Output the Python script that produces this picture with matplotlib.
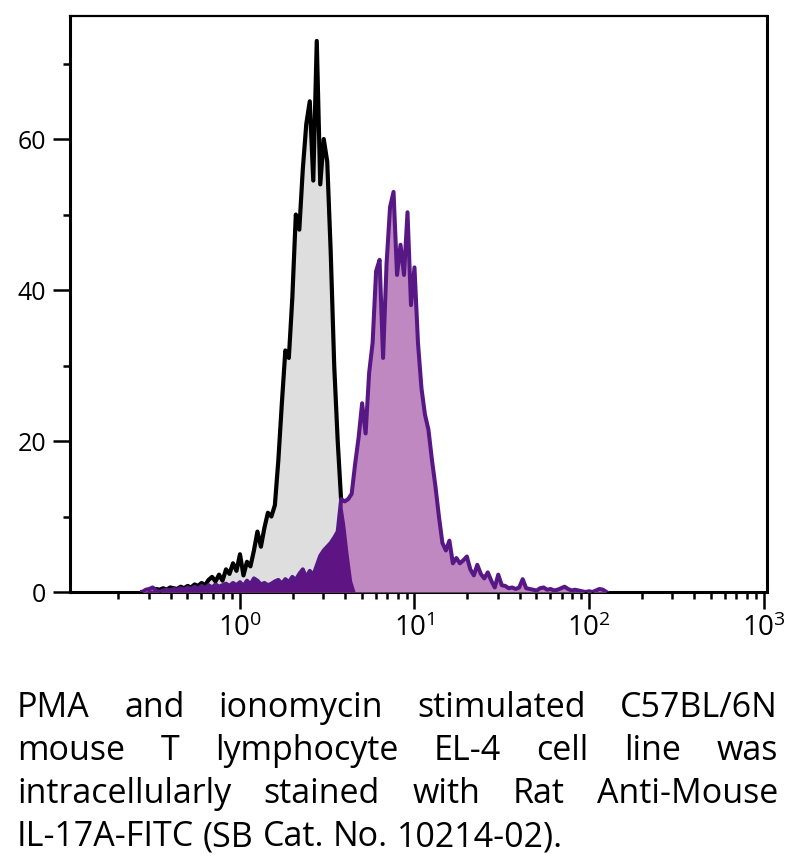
import numpy as np
import matplotlib
matplotlib.use("Agg")
import matplotlib.pyplot as plt

plt.rcParams['font.family'] = ['Open Sans', 'DejaVu Sans']
plt.rcParams['mathtext.fontset'] = 'custom'
plt.rcParams['mathtext.rm'] = 'Open Sans'
plt.rcParams['mathtext.it'] = 'Open Sans:italic'

# histogram channels: log10 of first channel and channel width (decades)
chan_start = -0.56
chan_step = 0.02

# unstained / isotype control (black outline, grey fill)
control = [0, 0, 0.3, 0.2, 0.4, 0.3, 0.5, 0.3, 0.6, 0.5,
           0.4, 0.7, 0.5, 0.8, 0.6, 1.0, 0.8, 1.2, 0.9, 1.6,
           2.0, 1.4, 2.3, 1.5, 3.0, 2.4, 3.8, 2.8, 5.0, 2.2,
           4.0, 3.4, 5.5, 8.0, 6.0, 8.5, 10.5, 10.0, 11.5, 17.5,
           25.0, 32.0, 31.0, 39.0, 50.0, 48.0, 56.0, 62.0, 65.0, 54.5,
           73.0, 54.0, 60.0, 57.0, 45.0, 30.0, 20.0, 12.0, 9.0, 5.0,
           1.5, 0]

# IL-17A-FITC stained (purple)
il17a = [0, 0.3, 0.4, 0.6, 0.2, 0, 0.2, 0.3, 0.2, 0.4,
         0.3, 0.5, 0.3, 0.6, 0.4, 0.7, 0.4, 0.8, 0.5, 0.9,
         0.6, 1.0, 0.7, 0.9, 1.1, 0.8, 1.2, 0.9, 1.3, 0.8,
         1.5, 1.0, 1.8, 1.5, 1.0, 1.2, 0.9, 1.1, 1.4, 1.6,
         1.1, 1.7, 1.3, 2.0, 1.6, 2.4, 3.0, 1.9, 2.8, 2.2,
         3.5, 4.8, 5.5, 6.0, 6.5, 7.2, 8.0, 12.3, 12.0, 12.3,
         13.0, 17.0, 20.5, 25.0, 21.0, 29.0, 33.0, 42.5, 44.0, 31.0,
         43.5, 51.0, 53.0, 42.0, 46.0, 42.0, 50.3, 38.0, 43.0, 33.0,
         27.0, 23.5, 21.5, 17.5, 14.0, 10.0, 6.5, 5.5, 6.8, 3.8,
         4.5, 3.8, 4.2, 4.7, 3.0, 2.2, 3.6, 2.4, 1.8, 2.6,
         1.5, 0.6, 2.3, 0.9, 0.8, 0.5, 0.6, 0.4, 0.6, 1.7,
         0.5, 0.4, 0.3, 0.2, 0.5, 0.6, 0.3, 0.4, 0.2, 0.3,
         0.5, 0.7, 0.4, 0.2, 0.3, 0.2, 0.1, 0, 0.1, 0,
         0.2, 0.4, 0.3, 0]

y_major = [0, 20, 40, 60]
y_minor = [10, 30, 50, 70]
x_decades = [0, 1, 2, 3]

caption = ["PMA and ionomycin stimulated C57BL/6N",
           "mouse T lymphocyte EL-4 cell line was",
           "intracellularly stained with Rat Anti-Mouse",
           "IL-17A-FITC (SB Cat. No. 10214-02)."]

W, H = 789, 858
fig = plt.figure(figsize=(W / 100, H / 100), dpi=100)
ax = fig.add_axes([70 / W, 1 - 592 / H, (767 - 70) / W, (592 - 16) / H])

g = np.array(control)
p = np.array(il17a)
xg = 10 ** (chan_start + chan_step * np.arange(len(g)))
xp = 10 ** (chan_start + chan_step * np.arange(len(p)))
overlap = np.minimum(g, p[:len(g)])

ax.fill_between(xg, 0, g, color='#dedede', lw=0, zorder=1)
ax.plot(xg, g, color='black', lw=3.0, zorder=2)
ax.fill_between(xp, 0, p, color='#c088c0', lw=0, zorder=3)
ax.fill_between(xg, 0, overlap, color='#5e1482', lw=0, zorder=4)
ax.plot(xp, p, color='#571885', lw=2.9, zorder=5)

ax.set_xscale('log')
ax.set_xlim(10 ** -0.974, 10 ** 3.02)
ax.set_ylim(0, 76.3)

ax.set_xticks([10.0 ** d for d in x_decades])
ax.set_xticklabels([r'$\mathregular{10^{%d}}$' % d for d in x_decades])
minor = [m * 10.0 ** d for d in [-1] + x_decades[:-1] for m in range(2, 10)]
ax.set_xticks(minor, minor=True)
ax.set_xticklabels([], minor=True)
ax.set_yticks(y_major)
ax.set_yticks(y_minor, minor=True)

ax.tick_params(which='major', length=12, width=1.8, direction='out')
ax.tick_params(which='minor', length=5, width=1.8, direction='out')
ax.tick_params(axis='y', labelsize=18, pad=5)
ax.tick_params(axis='x', labelsize=20, pad=4)
for side in ['left', 'bottom', 'right']:
    ax.spines[side].set_linewidth(2.2)
ax.spines['top'].set_linewidth(1.6)

# justified caption under the plot
cap_font = dict(family=['Open Sans', 'DejaVu Sans'], size=24.5)
fig.canvas.draw()
rend = fig.canvas.get_renderer()
left_px, right_px = 17, 778
for i, line in enumerate(caption):
    words = line.split()
    y = 1 - (717 + 43 * i) / H
    texts = [fig.text(0, y, w, va='baseline', **cap_font) for w in words]
    widths = [t.get_window_extent(rend).width for t in texts]
    if i < len(caption) - 1:
        gap = (right_px - left_px - sum(widths)) / (len(words) - 1)
    else:
        gap = 0.26 * cap_font['size'] * 100 / 72
    x = left_px
    for t, w in zip(texts, widths):
        t.set_x(x / W)
        x += w + gap

fig.savefig('out.png', dpi=100)
